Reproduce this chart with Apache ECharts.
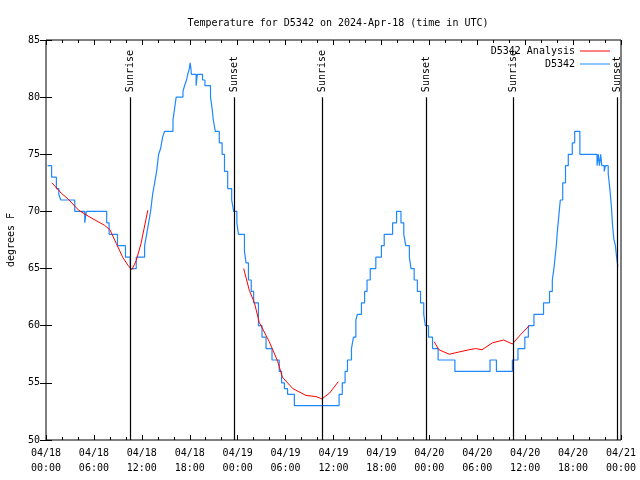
<!DOCTYPE html>
<html>
<head>
<meta charset="utf-8">
<script src="https://cdn.jsdelivr.net/npm/echarts@6/dist/echarts.min.js"></script>
<style>html,body{margin:0;padding:0;background:#fff;}#chart{width:640px;height:480px;}</style>
</head>
<body>
<div id="chart"></div>
<script>
// hours since 2024-04-18 00:00 UTC
var blueHours = [0.2,0.7,1.3,1.6,1.85,3.6,4.85,5.05,7.6,7.9,8.95,9.95,10.55,11.3,12.35,12.6,12.85,13.1,13.35,13.6,13.85,14.1,14.35,14.6,14.85,15.9,16.1,16.3,17.15,17.35,17.6,17.75,17.95,18.05,18.15,18.2,18.8,18.95,19.6,19.9,20.6,20.8,20.95,21.2,21.7,22.05,22.35,22.75,23.25,23.5,23.9,24.1,24.85,25.05,25.35,25.7,26.0,26.6,27.05,27.55,28.3,29.2,29.5,29.85,30.25,31.1,36.7,37.1,37.45,37.75,38.25,38.5,38.8,39.0,39.5,39.9,40.2,40.6,41.3,42.0,42.35,43.4,43.9,44.45,44.8,45.05,45.5,45.7,46.1,46.5,46.9,47.3,47.5,47.9,48.4,49.1,51.2,55.6,56.4,58.4,59.1,59.96,60.4,61.1,62.3,63.05,63.4,63.6,63.75,63.9,64.0,64.2,64.4,64.7,65.05,65.4,65.9,66.2,66.85,69.0,69.15,69.3,69.45,69.6,69.9,70.05,70.2,70.4,70.6,70.8,70.95,71.1,71.3,71.45,71.6];
var blueTemps = [74,73,72,71.5,71,70,69,70,69,68,67,66,65,66,67,68,69,70,71.5,72.5,73.5,75,75.5,76.5,77,78,79,80,80.5,81,81.5,82,82.5,83,82.5,82,81,82,81.5,81,80,79,78,77,76,75,73.5,72,71,70,69,68,66.5,65.5,64,63,62,60,59,58,57,56,55,54.5,54,53,54,55,56,57,58,59,60.5,61,62,63,64,65,66,67,68,69,70,69,68,67,66,65,64,63,62,61,60,59,58,57,56,57,56,57,58,59,60,61,62,63,64,65,66,67,68,69.5,71,72.5,74,75,76,77,75,74,75,74,75,74,73.5,74,74,73.3,72,70.4,68.7,67.6,67,66,65.2];

var red1Hours = [0.75,1.9,2.75,4.1,5.5,7.3,8.0,8.8,9.6,10.25,10.75,11.3,11.9,12.75];
var red1Temps = [72.5,71.6,71.1,70.1,69.5,68.8,68.4,67.2,66.0,65.3,64.9,65.7,67.2,70.1];
var red2Hours = [24.75,25.46,26.1,26.7,27.96,29.0,29.6,30.9,32.55,33.8,34.55,35.5,36.6];
var red2Temps = [65.0,63.1,62.0,60.3,58.6,56.9,55.5,54.5,53.9,53.8,53.6,54.1,55.1];
var red3Hours = [48.6,49.2,50.5,51.7,53.0,53.8,54.6,55.9,57.3,58.4,59.4,60.5];
var red3Temps = [58.6,57.9,57.5,57.7,57.9,58.0,57.9,58.5,58.75,58.4,59.2,60.0];

var sunHours = [10.5, 23.6, 34.5, 47.55, 58.45, 71.5];
var sunLabels = ['Sunrise','Sunset','Sunrise','Sunset','Sunrise','Sunset'];
var sunLineTop = 80;

var xTickDays = ['04/18','04/19','04/20','04/21'];

var FONT = 'DejaVu Sans Mono';

function zip(a, b) { return a.map(function (v, i) { return [v, b[i]]; }); }
var blueData = zip(blueHours, blueTemps);
var redData = zip(red1Hours, red1Temps).concat([[13, '-']], zip(red2Hours, red2Temps), [[37, '-']], zip(red3Hours, red3Temps));
var sunData = sunHours.map(function (h, i) { return [h, sunLineTop, sunLabels[i]]; });

function xLabel(v) {
  var d = Math.floor(v / 24);
  var hh = v - d * 24;
  return xTickDays[d] + '\n' + (hh < 10 ? '0' : '') + hh + ':00';
}

var tickStyle = {color: '#000', width: 1};
function xAx(pos, showLabel) {
  return {
    type: 'value', min: 0, max: 72, interval: 6, position: pos,
    axisLine: {show: false},
    splitLine: {show: false},
    axisTick: {show: true, inside: true, length: 5, lineStyle: tickStyle},
    minorTick: {show: true, splitNumber: 3, length: 3, lineStyle: tickStyle},
    axisLabel: {show: showLabel, formatter: xLabel, color: '#000', fontFamily: FONT, fontSize: 10, lineHeight: 15, margin: 6}
  };
}
function yAx(pos, showLabel) {
  return {
    type: 'value', min: 50, max: 85, interval: 5, position: pos,
    name: showLabel ? 'degrees F' : '', nameLocation: 'middle', nameGap: 30,
    nameTextStyle: {color: '#000', fontFamily: FONT, fontSize: 10},
    axisLine: {show: false},
    splitLine: {show: false},
    axisTick: {show: true, inside: true, length: 6, lineStyle: tickStyle},
    axisLabel: {show: showLabel, color: '#000', fontFamily: FONT, fontSize: 10, margin: 6}
  };
}

var chart = echarts.init(document.getElementById('chart'), null, {renderer: 'canvas'});
chart.setOption({
  animation: false,
  backgroundColor: '#fff',
  title: {
    text: 'Temperature for D5342 on 2024-Apr-18 (time in UTC)',
    left: 333, top: 13, textAlign: 'center',
    textStyle: {color: '#000', fontFamily: FONT, fontSize: 10, fontWeight: 'normal'}
  },
  grid: {left: 46, right: 19, top: 40, bottom: 40, outerBoundsMode: 'none', containLabel: false,
    show: true, borderColor: '#000', borderWidth: 1, backgroundColor: 'transparent'},
  legend: {
    data: ['D5342 Analysis', 'D5342'],
    orient: 'vertical', right: 25, top: 40, align: 'right',
    icon: 'rect', itemWidth: 30, itemHeight: 1, itemGap: 1,
    textStyle: {color: '#000', fontFamily: FONT, fontSize: 10, lineHeight: 12}
  },
  xAxis: [xAx('bottom', true), xAx('top', false)],
  yAxis: [yAx('left', true), yAx('right', false)],
  series: [
    {
      name: 'D5342 Analysis', type: 'line', data: redData, showSymbol: false, connectNulls: false,
      lineStyle: {color: '#ff0000', width: 1}, itemStyle: {color: '#ff0000'}, z: 3
    },
    {
      name: 'D5342', type: 'line', data: blueData, step: 'end', showSymbol: false,
      lineStyle: {color: '#1e88ff', width: 1.2}, itemStyle: {color: '#1e88ff'}, z: 2
    },
    {
      name: 'sun', type: 'custom', data: sunData, z: 4, silent: true,
      renderItem: function (params, api) {
        var h = api.value(0);
        var top = api.coord([h, api.value(1)]);
        var bot = api.coord([h, 50]);
        return {
          type: 'group',
          children: [
            {type: 'line', shape: {x1: Math.round(top[0]) + 0.5, y1: top[1], x2: Math.round(top[0]) + 0.5, y2: bot[1]}, style: {stroke: '#000', lineWidth: 1.2}},
            {type: 'text', x: Math.round(top[0]) + 0.5, y: top[1] - 5, rotation: Math.PI / 2,
              style: {text: sunLabels[params.dataIndex], fill: '#000', font: '10px "' + FONT + '"', align: 'left', verticalAlign: 'middle'}}
          ]
        };
      }
    }
  ]
});
</script>
</body>
</html>
